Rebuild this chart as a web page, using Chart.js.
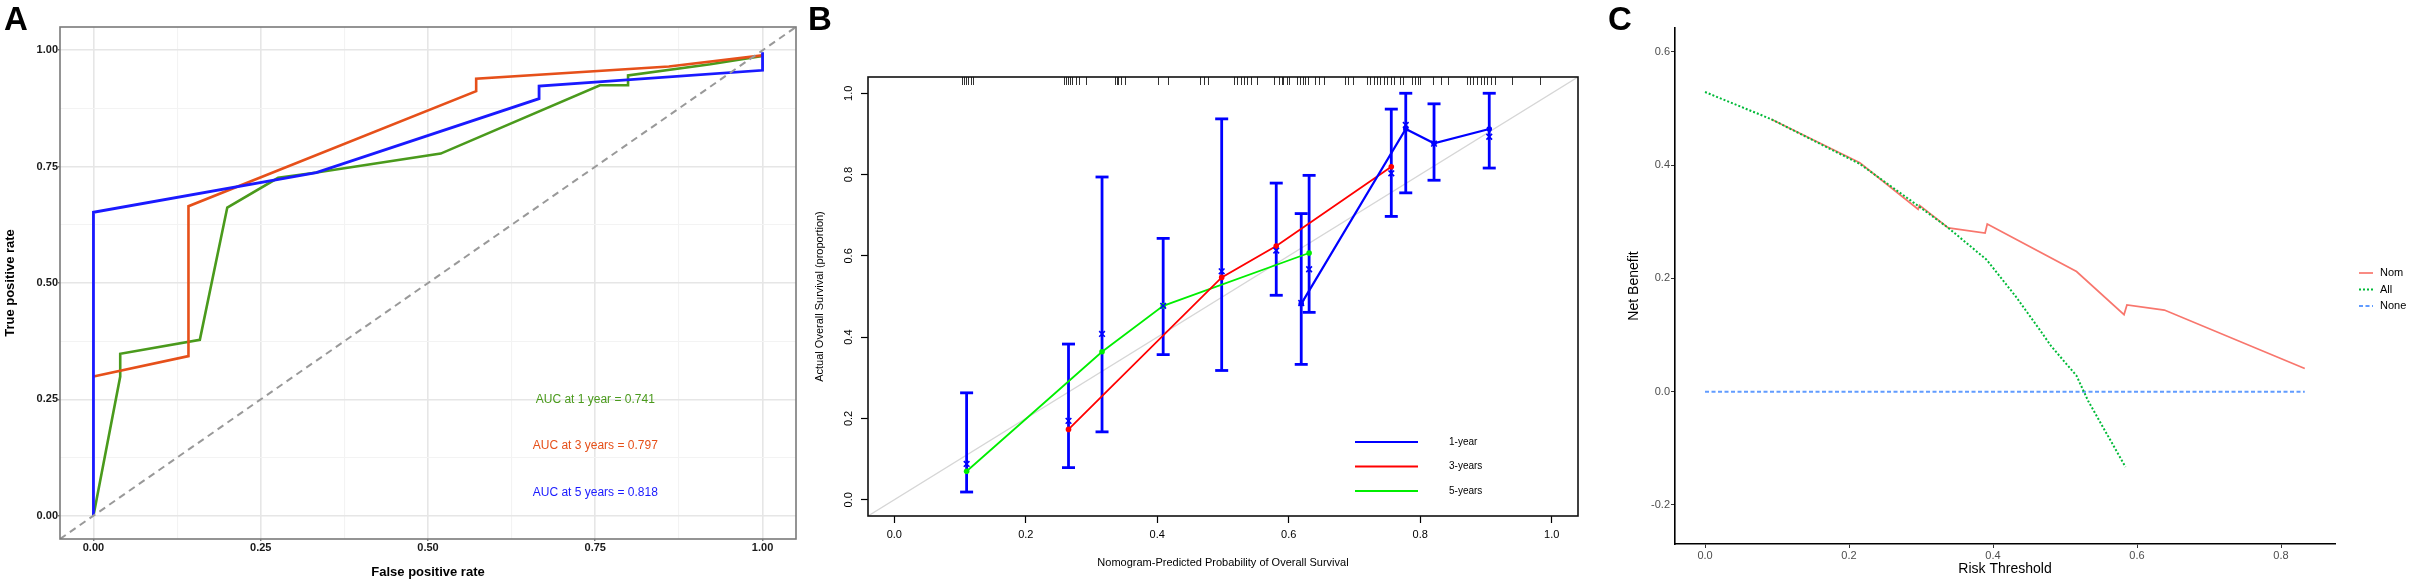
<!DOCTYPE html>
<html>
<head>
<meta charset="utf-8">
<title>ROC, calibration and decision curves</title>
<script src="https://cdn.jsdelivr.net/npm/chart.js@4.4.1/dist/chart.umd.min.js"></script>
<style>
  html, body { margin: 0; padding: 0; background: #fff; }
  #wrap { position: relative; width: 2410px; height: 586px; overflow: hidden; }
  .panel { position: absolute; top: 0; height: 586px; }
  #panelA { left: 0; width: 803px; }
  #panelB { left: 803px; width: 803px; }
  #panelC { left: 1606px; width: 804px; }
</style>
</head>
<body>
<div id="wrap">
  <div class="panel" id="panelA"><canvas id="chartA" width="803" height="586"></canvas></div>
  <div class="panel" id="panelB"><canvas id="chartB" width="803" height="586"></canvas></div>
  <div class="panel" id="panelC"><canvas id="chartC" width="804" height="586"></canvas></div>
</div>
<script>
// ============ DATA: PANEL A (time-dependent ROC) ============

const rocTicks = [0, 0.25, 0.5, 0.75, 1];
const rocGrid = [0, 0.125, 0.25, 0.375, 0.5, 0.625, 0.75, 0.875, 1];
const rocDiagonal = [-0.05, 1.05];

const roc1yFpr = [0, 0.040, 0.040, 0.159, 0.200, 0.276, 0.331, 0.519, 0.757, 0.799, 0.799, 0.922, 1.0];
const roc1yTpr = [0, 0.299, 0.348, 0.378, 0.662, 0.726, 0.737, 0.778, 0.925, 0.925, 0.946, 0.970, 0.988];

const roc3yFpr = [0, 0.142, 0.142, 0.572, 0.572, 0.860, 1.0];
const roc3yTpr = [0.299, 0.343, 0.665, 0.912, 0.939, 0.965, 0.989];

const roc5yFpr = [0, 0, 0.333, 0.666, 0.666, 1.0, 1.0];
const roc5yTpr = [0, 0.652, 0.737, 0.896, 0.923, 0.957, 0.996];

const aucLabels = ['AUC at 1 year = 0.741', 'AUC at 3 years = 0.797', 'AUC at 5 years = 0.818'];
const aucX = 0.75;
const aucY = [0.25, 0.15, 0.05];

// ============ DATA: PANEL B (calibration) ============

const calTicks = [0, 0.2, 0.4, 0.6, 0.8, 1.0];
const calDiagonal = [-0.04, 1.04];

const cal1yX = [0.619, 0.778, 0.821, 0.905];
const cal1yObs = [0.482, 0.912, 0.877, 0.912];
const cal1yCorr = [0.484, 0.922, 0.876, 0.893];
const cal1yLower = [0.333, 0.755, 0.786, 0.816];
const cal1yUpper = [0.704, 1.0, 0.974, 1.0];

const cal3yX = [0.265, 0.498, 0.581, 0.756];
const cal3yObs = [0.173, 0.547, 0.624, 0.819];
const cal3yCorr = [0.194, 0.562, 0.613, 0.803];
const cal3yLower = [0.079, 0.318, 0.503, 0.697];
const cal3yUpper = [0.383, 0.937, 0.779, 0.961];

const cal5yX = [0.110, 0.316, 0.409, 0.631];
const cal5yObs = [0.070, 0.364, 0.477, 0.607];
const cal5yCorr = [0.088, 0.408, 0.477, 0.567];
const cal5yLower = [0.019, 0.167, 0.357, 0.461];
const cal5yUpper = [0.263, 0.794, 0.643, 0.798];

// predicted probabilities shown as the rug along the top
const rugValues = [
  0.103, 0.106, 0.109, 0.112, 0.116, 0.119,
  0.258, 0.261, 0.264, 0.268, 0.271, 0.277, 0.281, 0.292,
  0.335, 0.338, 0.341, 0.345, 0.351, 0.401, 0.416,
  0.465, 0.471, 0.477,
  0.516, 0.521, 0.527, 0.532, 0.537, 0.543, 0.551,
  0.577, 0.585, 0.589, 0.592, 0.597, 0.600,
  0.613, 0.617, 0.621, 0.625, 0.629, 0.640, 0.646, 0.653,
  0.685, 0.690, 0.698,
  0.719, 0.724, 0.729, 0.734, 0.739, 0.745, 0.750, 0.755, 0.760,
  0.769, 0.774, 0.787, 0.792, 0.797, 0.800,
  0.819, 0.832, 0.842,
  0.871, 0.876, 0.881, 0.886, 0.892, 0.897, 0.902, 0.907, 0.913,
  0.939, 0.982
];

// ============ DATA: PANEL C (decision curve) ============

const dcaTicksX = [0, 0.2, 0.4, 0.6, 0.8];
const dcaTicksY = [-0.2, 0, 0.2, 0.4, 0.6];

const dcaNomT = [0.092, 0.215, 0.296, 0.298, 0.338, 0.389, 0.392, 0.516, 0.582, 0.586, 0.638, 0.833];
const dcaNomNB = [0.481, 0.404, 0.322, 0.329, 0.289, 0.280, 0.296, 0.212, 0.136, 0.153, 0.144, 0.041];

const dcaAllT = [0, 0.092, 0.215, 0.296, 0.338, 0.391, 0.431, 0.465, 0.481, 0.516, 0.532, 0.584];
const dcaAllNB = [0.529, 0.481, 0.402, 0.328, 0.289, 0.233, 0.169, 0.109, 0.080, 0.028, -0.016, -0.133];

const dcaNoneT = [0, 0.833];
const dcaNoneNB = [0, 0];

// ============ HELPERS ============

const FONT = '"Liberation Sans", Arial, Helvetica, sans-serif';
Chart.defaults.font.family = FONT;
Chart.defaults.color = '#000';

const toPoints = (xs, ys) => xs.map((x, i) => ({ x: x, y: ys[i] }));
const setTicks = (values) => (scale) => { scale.ticks = values.map(v => ({ value: v })); };

// ============ PLUGINS ============

const panelLabel = {
    id: 'panelLabel',
    afterDraw(chart, args, opts) {
        const ctx = chart.ctx;
        ctx.save();
        ctx.font = 'bold 33px ' + FONT;
        ctx.fillStyle = '#000';
        ctx.textBaseline = 'alphabetic';
        ctx.fillText(opts.text, opts.x, opts.y);
        ctx.restore();
    }
};

const frameBox = {
    id: 'frameBox',
    afterDatasetsDraw(chart, args, opts) {
        const { ctx, chartArea: a } = chart;
        ctx.save();
        ctx.strokeStyle = opts.color;
        ctx.lineWidth = opts.width;
        ctx.strokeRect(a.left, a.top, a.right - a.left, a.bottom - a.top);
        ctx.restore();
    }
};

const aucText = {
    id: 'aucText',
    afterDatasetsDraw(chart, args, opts) {
        const { ctx, scales } = chart;
        ctx.save();
        ctx.font = '12px ' + FONT;
        ctx.textAlign = 'center';
        ctx.textBaseline = 'middle';
        aucLabels.forEach((t, i) => {
            ctx.fillStyle = opts.colors[i];
            ctx.fillText(t, scales.x.getPixelForValue(aucX), scales.y.getPixelForValue(aucY[i]));
        });
        ctx.restore();
    }
};

const rugTicks = {
    id: 'rugTicks',
    afterDatasetsDraw(chart) {
        const { ctx, chartArea: a, scales } = chart;
        ctx.save();
        ctx.strokeStyle = 'rgba(0,0,0,0.8)';
        ctx.lineWidth = 1;
        rugValues.forEach(v => {
            const px = Math.round(scales.x.getPixelForValue(v)) + 0.5;
            ctx.beginPath();
            ctx.moveTo(px, a.top);
            ctx.lineTo(px, a.top + 8);
            ctx.stroke();
        });
        ctx.restore();
    }
};

const lineLegend = {
    id: 'lineLegend',
    afterDraw(chart, args, o) {
        const ctx = chart.ctx;
        const items = chart.data.datasets
            .filter(d => d.legendText)
            .sort((p, q) => p.legendRank - q.legendRank);
        ctx.save();
        ctx.font = o.font;
        ctx.textBaseline = 'middle';
        items.forEach((d, i) => {
            const y = o.y + i * o.step;
            ctx.strokeStyle = d.borderColor;
            ctx.lineWidth = o.lineWidth || d.borderWidth;
            ctx.setLineDash(d.borderDash || []);
            ctx.beginPath();
            ctx.moveTo(o.x, y);
            ctx.lineTo(o.x + o.len, y);
            ctx.stroke();
            ctx.setLineDash([]);
            ctx.fillStyle = o.color;
            ctx.fillText(d.legendText, o.textX, y);
        });
        ctx.restore();
    }
};

const commonOptions = {
    responsive: false,
    animation: false,
    events: []
};

// ============ PANEL A ============

const rocColors = ['#4a9a1c', '#e6501a', '#1a1aff'];

new Chart(document.getElementById('chartA'), {
    type: 'scatter',
    data: {
        datasets: [
            {
                data: toPoints(rocDiagonal, rocDiagonal),
                showLine: true, borderColor: '#999999', borderWidth: 2,
                borderDash: [7, 5], pointRadius: 0, order: 0
            },
            {
                data: toPoints(roc1yFpr, roc1yTpr),
                showLine: true, borderColor: rocColors[0], borderWidth: 2.6, pointRadius: 0, order: 3
            },
            {
                data: toPoints(roc3yFpr, roc3yTpr),
                showLine: true, borderColor: rocColors[1], borderWidth: 2.6, pointRadius: 0, order: 2
            },
            {
                data: toPoints(roc5yFpr, roc5yTpr),
                showLine: true, borderColor: rocColors[2], borderWidth: 2.8, pointRadius: 0, order: 1
            }
        ]
    },
    options: {
        ...commonOptions,
        layout: { padding: { left: 0, top: 27, right: 7, bottom: 0 } },
        scales: {
            x: {
                type: 'linear', min: -0.05, max: 1.05,
                afterBuildTicks: setTicks(rocGrid),
                afterFit: s => { s.height = 47; },
                border: { display: false },
                grid: {
                    color: c => rocTicks.includes(c.tick.value) ? '#e6e6e6' : '#f3f3f3',
                    lineWidth: c => rocTicks.includes(c.tick.value) ? 1.6 : 1.1,
                    tickColor: c => rocTicks.includes(c.tick.value) ? '#444' : 'rgba(0,0,0,0)',
                    tickLength: 2, tickWidth: 1
                },
                ticks: {
                    padding: 0, color: '#1a1a1a', maxRotation: 0, autoSkip: false,
                    font: { size: 11, weight: 'bold' },
                    callback: v => rocTicks.includes(v) ? v.toFixed(2) : ''
                },
                title: {
                    display: true, text: 'False positive rate', color: '#000',
                    font: { size: 13, weight: 'bold' }, padding: { top: 0, bottom: 6 }
                }
            },
            y: {
                type: 'linear', min: -0.05, max: 1.05,
                afterBuildTicks: setTicks(rocGrid),
                afterFit: s => { s.width = 60; },
                border: { display: false },
                grid: {
                    color: c => rocTicks.includes(c.tick.value) ? '#e6e6e6' : '#f3f3f3',
                    lineWidth: c => rocTicks.includes(c.tick.value) ? 1.6 : 1.1,
                    tickColor: c => rocTicks.includes(c.tick.value) ? '#444' : 'rgba(0,0,0,0)',
                    tickLength: 2, tickWidth: 1
                },
                ticks: {
                    padding: 0, color: '#1a1a1a', autoSkip: false,
                    font: { size: 11, weight: 'bold' },
                    callback: v => rocTicks.includes(v) ? v.toFixed(2) : ''
                },
                title: {
                    display: true, text: 'True positive rate', color: '#000',
                    font: { size: 13, weight: 'bold' }, padding: { top: 3, bottom: 0 }
                }
            }
        },
        plugins: {
            legend: { display: false },
            tooltip: { enabled: false },
            panelLabel: { text: 'A', x: 4, y: 30 },
            frameBox: { color: '#7a7a7a', width: 1.6 },
            aucText: { colors: rocColors }
        }
    },
    plugins: [frameBox, aucText, panelLabel]
});

// ============ PANEL B ============

const calBlue = '#0000ff';
const calGroups = [
    { x: cal1yX, obs: cal1yObs, corr: cal1yCorr, lo: cal1yLower, hi: cal1yUpper, color: calBlue, label: '1-year', width: 2.2 },
    { x: cal3yX, obs: cal3yObs, corr: cal3yCorr, lo: cal3yLower, hi: cal3yUpper, color: '#ff0000', label: '3-years', width: 1.8 },
    { x: cal5yX, obs: cal5yObs, corr: cal5yCorr, lo: cal5yLower, hi: cal5yUpper, color: '#00ee00', label: '5-years', width: 1.8 }
];

const calDatasets = [{
    data: toPoints(calDiagonal, calDiagonal),
    showLine: true, borderColor: '#d6d6d6', borderWidth: 1.3, pointRadius: 0, order: 10
}];

calGroups.forEach((g, gi) => {
    // apparent calibration line with dots
    calDatasets.push({
        data: toPoints(g.x, g.obs),
        showLine: true, borderColor: g.color, borderWidth: g.width,
        pointRadius: 2.8, pointBackgroundColor: g.color, pointBorderWidth: 0,
        legendText: g.label, legendRank: gi, order: 2
    });
    // error bars (always blue)
    g.x.forEach((xv, i) => {
        calDatasets.push({
            data: [{ x: xv, y: g.lo[i] }, { x: xv, y: g.hi[i] }],
            showLine: true, borderColor: calBlue, borderWidth: 2.8,
            pointStyle: 'line', pointRadius: 6.5,
            pointBorderColor: calBlue, pointBorderWidth: 2.8, order: 4
        });
    });
    // bias-corrected estimates
    calDatasets.push({
        data: toPoints(g.x, g.corr),
        showLine: false, pointStyle: 'crossRot', pointRadius: 4,
        pointBorderColor: calBlue, pointBorderWidth: 1.6, order: 1
    });
});

new Chart(document.getElementById('chartB'), {
    type: 'scatter',
    data: { datasets: calDatasets },
    options: {
        ...commonOptions,
        layout: { padding: { left: 0, top: 77, right: 28, bottom: 0 } },
        scales: {
            x: {
                type: 'linear', min: -0.04, max: 1.04,
                afterBuildTicks: setTicks(calTicks),
                afterFit: s => { s.height = 70; },
                border: { display: false },
                grid: { drawOnChartArea: false, tickLength: 7, tickColor: '#000', tickWidth: 1.2 },
                ticks: {
                    padding: 5, color: '#000', maxRotation: 0, autoSkip: false,
                    font: { size: 11 }, callback: v => v.toFixed(1)
                },
                title: {
                    display: true, text: 'Nomogram-Predicted Probability of Overall Survival',
                    color: '#000', font: { size: 11 }, padding: { top: 0, bottom: 16 }
                }
            },
            y: {
                type: 'linear', min: -0.04, max: 1.04,
                afterBuildTicks: setTicks(calTicks),
                afterFit: s => { s.width = 65; },
                border: { display: false },
                grid: { drawOnChartArea: false, tickLength: 7, tickColor: '#000', tickWidth: 1.2 },
                ticks: {
                    padding: 4, color: '#000', autoSkip: false,
                    minRotation: 90, maxRotation: 90, crossAlign: 'center',
                    font: { size: 11 }, callback: v => v.toFixed(1)
                },
                title: {
                    display: true, text: 'Actual Overall Survival (proportion)',
                    color: '#000', font: { size: 11 }, padding: { top: 10, bottom: 0 }
                }
            }
        },
        plugins: {
            legend: { display: false },
            tooltip: { enabled: false },
            panelLabel: { text: 'B', x: 5, y: 30 },
            frameBox: { color: '#111', width: 1.6 },
            lineLegend: {
                x: 552, len: 63, y: 442, step: 24.5, textX: 646,
                font: '10px ' + FONT, color: '#000', lineWidth: 2
            }
        }
    },
    plugins: [rugTicks, frameBox, lineLegend, panelLabel]
});

// ============ PANEL C ============

new Chart(document.getElementById('chartC'), {
    type: 'scatter',
    data: {
        datasets: [
            {
                data: toPoints(dcaAllT, dcaAllNB),
                showLine: true, borderColor: '#00BA38', borderWidth: 2, borderDash: [2, 2],
                pointRadius: 0, legendText: 'All', legendRank: 1, order: 0
            },
            {
                data: toPoints(dcaNomT, dcaNomNB),
                showLine: true, borderColor: '#F8766D', borderWidth: 1.7,
                pointRadius: 0, legendText: 'Nom', legendRank: 0, order: 1
            },
            {
                data: toPoints(dcaNoneT, dcaNoneNB),
                showLine: true, borderColor: '#619CFF', borderWidth: 2, borderDash: [4, 2.5],
                pointRadius: 0, legendText: 'None', legendRank: 2, order: 2
            }
        ]
    },
    options: {
        ...commonOptions,
        layout: { padding: { left: 0, top: 28, right: 75, bottom: 0 } },
        scales: {
            x: {
                type: 'linear', min: -0.0417, max: 0.875,
                afterBuildTicks: setTicks(dcaTicksX),
                afterFit: s => { s.height = 42; },
                border: { display: true, color: '#000', width: 1.6 },
                grid: { drawOnChartArea: false, tickLength: 4, tickColor: '#333', tickWidth: 1 },
                ticks: {
                    padding: 1, color: '#4d4d4d', maxRotation: 0, autoSkip: false,
                    font: { size: 11 }, callback: v => v.toFixed(1)
                },
                title: {
                    display: true, text: 'Risk Threshold', color: '#000',
                    font: { size: 14 }, padding: { top: 0, bottom: 8 }
                }
            },
            y: {
                type: 'linear', min: -0.269, max: 0.642,
                afterBuildTicks: setTicks(dcaTicksY),
                afterFit: s => { s.width = 69; },
                border: { display: true, color: '#000', width: 1.6 },
                grid: { drawOnChartArea: false, tickLength: 4, tickColor: '#333', tickWidth: 1 },
                ticks: {
                    padding: 1, color: '#4d4d4d', autoSkip: false,
                    font: { size: 11 }, callback: v => v.toFixed(1)
                },
                title: {
                    display: true, text: 'Net Benefit', color: '#000',
                    font: { size: 14 }, padding: { top: 20, bottom: 0 }
                }
            }
        },
        plugins: {
            legend: { display: false },
            tooltip: { enabled: false },
            panelLabel: { text: 'C', x: 2, y: 30 },
            lineLegend: {
                x: 753, len: 14, y: 273, step: 16.5, textX: 774,
                font: '11px ' + FONT, color: '#000'
            }
        }
    },
    plugins: [lineLegend, panelLabel]
});
</script>
</body>
</html>
